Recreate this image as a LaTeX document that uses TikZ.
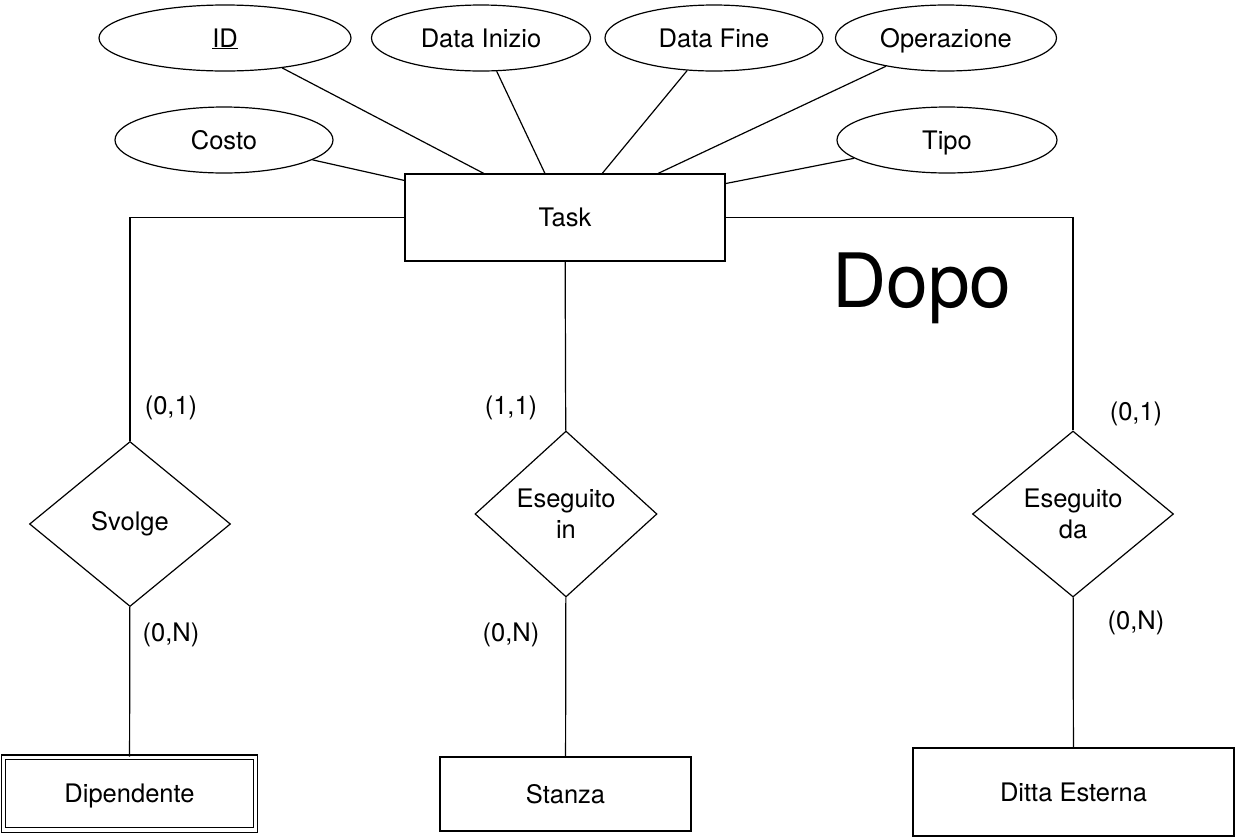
\documentclass[tikz,border=0pt]{standalone}
\usepackage{fontspec}
\setmainfont{TeX Gyre Heros}
\usepackage{tikz}
\usetikzlibrary{shapes.geometric, positioning, calc}

\begin{document}
\begin{tikzpicture}[
    x=1pt, y=-1pt,
    font=\fontsize{25.5}{31}\selectfont,
    every path/.style={line width=1.2pt},
    attr/.style={ellipse, draw=black, inner sep=0pt, text height=18.5pt, text depth=0pt, minimum width=252pt, minimum height=66pt},
    entity/.style={rectangle, draw=black, inner sep=0pt, text height=18.5pt, text depth=0pt, text centered},
    weak/.style={entity, double, double distance=3.5pt},
    rel/.style={diamond, draw=black, inner sep=0pt, align=center, minimum width=201pt, minimum height=165pt},
    card/.style={inner sep=0pt}
]
\useasboundingbox (0,0) rectangle (1236,839);

% entity and attributes
\node (task) [entity, minimum width=320pt, minimum height=87pt] at (565,217.5) {Task};
\node (id) [attr] at (225,38) {\underline{ID}};
\node (inizio) [attr, minimum width=219pt] at (481,38) {Data Inizio};
\node (fine) [attr, minimum width=218pt] at (714,38) {Data Fine};
\node (oper) [attr, minimum width=221pt] at (946,38) {Operazione};
\node (costo) [attr, minimum width=218pt] at (224,140) {Costo};
\node (tipo) [attr, minimum width=220pt] at (947,140) {Tipo};

\draw (id) -- ($(task.north west)!0.247!(task.north east)$);
\draw (inizio) -- ($(task.north west)!0.4375!(task.north east)$);
\draw (fine) -- ($(task.north west)!0.616!(task.north east)$);
\draw (oper) -- ($(task.north west)!0.79!(task.north east)$);
\draw (costo) -- ($(task.north west)!0.08!(task.south west)$);
\draw (tipo) -- ($(task.north east)!0.115!(task.south east)$);

\node (dopo) at (922,288) {\fontsize{75}{80}\selectfont Dopo};

% relationships
\node (svolge) [rel] at (130,524) {Svolge};
\node (esin) [rel, minimum width=182pt, minimum height=166pt] at (566,514) {Eseguito\\in};
\node (esda) [rel, minimum width=201pt, minimum height=166pt] at (1073,514) {Eseguito\\da};

\node (dip) [weak, minimum width=252pt, minimum height=72.5pt] at (129.5,793.5) {Dipendente};
\node (stanza) [entity, minimum width=251pt, minimum height=74pt] at (565.5,794) {Stanza};
\node (ditta) [entity, minimum width=321pt, minimum height=88pt] at (1073.5,792) {Ditta Esterna};

\draw (task.west) -| (svolge.north);
\draw (task) -- (esin);
\draw (task.east) -| (esda.north);
\draw (svolge) -- (dip);
\draw (esin) -- (stanza);
\draw (esda) -- (ditta);

% cardinalities
\node (c1) [card] at (171,408) {(0,1)};
\node (c2) [card] at (171,635) {(0,N)};
\node (c3) [card] at (511,408) {(1,1)};
\node (c4) [card] at (511,635) {(0,N)};
\node (c5) [card] at (1136,414) {(0,1)};
\node (c6) [card] at (1136,623) {(0,N)};

\end{tikzpicture}
\end{document}
